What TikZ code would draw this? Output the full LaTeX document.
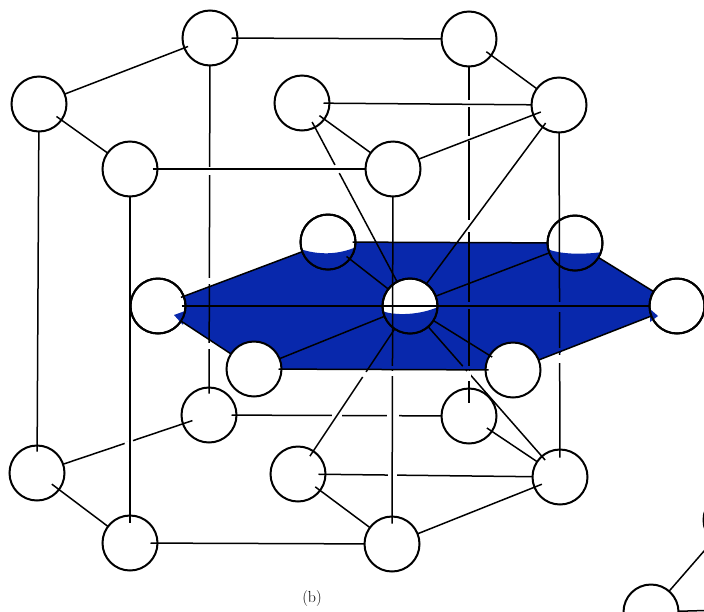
\documentclass[tikz,border=0pt]{standalone}
\usetikzlibrary{backgrounds}
\definecolor{planeblue}{RGB}{8,40,172}
\tikzset{
atom/.style={draw,circle,fill=white,line width=2pt,minimum size=55pt,inner sep=0pt,outer sep=0pt},
rim/.style={line width=2pt},
bond/.style={line width=1.5pt},
overa/.style={shorten <=-#1pt},
overb/.style={shorten >=-#1pt},
gapwhite/.style={draw=white,line width=3.2pt},
gapblue/.style={draw=planeblue,line width=3.2pt}
}
\begin{document}
\begin{tikzpicture}[x=1pt,y=-1pt]

\useasboundingbox (0,0) rectangle (704,611);
\clip (0,0) rectangle (704,611);

%%%%%%%%%%%%%%%%%%%%%%%%%%%%%%%%%%%%%%%%%%%%%%%%%%%%%%%%%%
% TOP LAYER
%%%%%%%%%%%%%%%%%%%%%%%%%%%%%%%%%%%%%%%%%%%%%%%%%%%%%%%%%%

\node[atom](topa) at (39,104){};
\node[atom](topb) at (210,38){};
\node[atom](topc) at (469,39){};
\node[atom](topd) at (559,105){};
\node[atom](tope) at (393,169){};
\node[atom](topf) at (130,169){};
\node[atom](topg) at (302,103){};

%%%%%%%%%%%%%%%%%%%%%%%%%%%%%%%%%%%%%%%%%%%%%%%%%%%%%%%%%%
% MIDDLE LAYER
%%%%%%%%%%%%%%%%%%%%%%%%%%%%%%%%%%%%%%%%%%%%%%%%%%%%%%%%%%

\node[atom](mida) at (158,306){};
\node[atom](midb) at (328,242){};
\node[atom](midc) at (575,243){};
\node[atom](midd) at (677,306){};
\node[atom](mide) at (513,370){};
\node[atom](midf) at (254,369){};
\node[atom](center) at (410,306){};

%%%%%%%%%%%%%%%%%%%%%%%%%%%%%%%%%%%%%%%%%%%%%%%%%%%%%%%%%%
% BOTTOM LAYER
%%%%%%%%%%%%%%%%%%%%%%%%%%%%%%%%%%%%%%%%%%%%%%%%%%%%%%%%%%

\node[atom](bota) at (37,473){};
\node[atom](botb) at (209,415){};
\node[atom](botc) at (469,416){};
\node[atom](botd) at (560,477){};
\node[atom](bote) at (392,544){};
\node[atom](botf) at (130,543){};
\node[atom](botg) at (298,474){};

%%%%%%%%%%%%%%%%%%%%%%%%%%%%%%%%%%%%%%%%%%%%%%%%%%%%%%%%%%
% NEXT CELL, CUT BY THE PAGE
%%%%%%%%%%%%%%%%%%%%%%%%%%%%%%%%%%%%%%%%%%%%%%%%%%%%%%%%%%

\node[atom](nexta) at (731,520){};
\node[atom](nextb) at (651,612){};
\coordinate (nextc) at (760,609);

%%%%%%%%%%%%%%%%%%%%%%%%%%%%%%%%%%%%%%%%%%%%%%%%%%%%%%%%%%
% BLUE PLANE
%%%%%%%%%%%%%%%%%%%%%%%%%%%%%%%%%%%%%%%%%%%%%%%%%%%%%%%%%%

\begin{scope}[on background layer]
\fill[planeblue] (mida.center)--(midb.center)--(midc.center)--(midd.center)--(mide.center)--(midf.center)--cycle;
\end{scope}

\begin{scope}
\clip (midb) circle[radius=27.5];
\fill[planeblue] (300,249) .. controls (318,255) and (338,255) .. (356,247) -- (356,272) -- (300,272) -- cycle;
\end{scope}
\draw[rim] (midb) circle[radius=27.5];

\begin{scope}
\clip (midc) circle[radius=27.5];
\fill[planeblue] (547,249) .. controls (560,254) and (580,255) .. (603,252) -- (603,272) -- (547,272) -- cycle;
\end{scope}
\draw[rim] (midc) circle[radius=27.5];

\begin{scope}
\clip (center) circle[radius=27.5];
\fill[planeblue] (382,311) .. controls (395,316) and (420,315) .. (438,307) -- (438,335) -- (382,335) -- cycle;
\end{scope}
\draw[rim] (center) circle[radius=27.5];

% small tips that show on the side atoms
\fill[planeblue] (174,315)--(185,311)--(183,325)--cycle;
\draw[rim] (mida) circle[radius=27.5];
\fill[planeblue] (658,316)--(650,309)--(650,322)--cycle;
\draw[rim] (midd) circle[radius=27.5];

%%%%%%%%%%%%%%%%%%%%%%%%%%%%%%%%%%%%%%%%%%%%%%%%%%%%%%%%%%
% LINES THAT PASS UNDER OTHERS
%%%%%%%%%%%%%%%%%%%%%%%%%%%%%%%%%%%%%%%%%%%%%%%%%%%%%%%%%%

\draw[bond,overb=10] (bota)--(botb);
\draw[bond,overa=6] (topg)--(center);
\draw[bond,overa=5] (botb)--(botc);
\draw[bond,overa=7] (botg)--(botd);

\draw[gapwhite] (125,444)--(133,441);
\draw[gapwhite] (335,165)--(339,173);
\draw[gapwhite] (332,416)--(342,416);
\draw[gapwhite] (387,416)--(399,416);
\draw[gapwhite] (388,476)--(397,476);

%%%%%%%%%%%%%%%%%%%%%%%%%%%%%%%%%%%%%%%%%%%%%%%%%%%%%%%%%%
% VERTICAL LINES
%%%%%%%%%%%%%%%%%%%%%%%%%%%%%%%%%%%%%%%%%%%%%%%%%%%%%%%%%%

\draw[bond,overb=6] (topa)--(bota);
\draw[bond,overb=6] (topb)--(botb);
\draw[bond,overb=14] (topc)--(botc);
\draw[bond,overb=8] (topd)--(botd);
\draw[bond,overb=7] (tope)--(bote);
\draw[bond,overb=7] (topf)--(botf);
\draw[bond,overa=6] (botg)--(center);
\draw[bond,overa=5] (botd)--(center);

\draw[gapwhite] (210,167)--(210,175);
\draw[gapwhite] (210,278)--(210,284);
\draw[gapwhite] (210,343)--(210,349);
\draw[gapwhite] (469,100)--(469,107);
\draw[gapwhite] (469,136)--(469,141);
\draw[gapwhite] (469,220)--(469,232);
\draw[gapblue] (469,302)--(469,309);
\draw[gapblue] (469,366)--(469,369);
\draw[gapwhite] (469,371)--(469,381);
\draw[gapblue] (393,366)--(393,369);
\draw[gapwhite] (393,371)--(393,376);
\draw[gapblue] (559,302)--(559,312);
\draw[gapblue] (559,348)--(559,353);
\draw[gapwhite] (559,355)--(559,363);
\draw[gapwhite] (366,372)--(363,377);
\draw[gapblue] (463,366)--(466,369);
\draw[gapwhite] (467,371)--(470,374);

%%%%%%%%%%%%%%%%%%%%%%%%%%%%%%%%%%%%%%%%%%%%%%%%%%%%%%%%%%
% OTHER CONNECTIONS
%%%%%%%%%%%%%%%%%%%%%%%%%%%%%%%%%%%%%%%%%%%%%%%%%%%%%%%%%%

\draw[bond,overb=4] (topa)--(topb);
\draw[bond,overa=6] (topb)--(topc);
\draw[bond,overa=6] (topc)--(topd);
\draw[bond,overb=8] (tope)--(topd);
\draw[bond,overa=5] (topf)--(tope);
\draw[bond,overa=6] (topa)--(topf);
\draw[bond,overa=6] (topg)--(topd);
\draw[bond,overa=6] (topg)--(tope);
\draw[bond,overa=5] (topd)--(center);

\draw[bond,overa=6] (botc)--(botd);
\draw[bond,overb=8] (bote)--(botd);
\draw[bond,overa=7] (botf)--(bote);
\draw[bond,overa=9] (bota)--(botf);
\draw[bond,overa=6] (botg)--(bote);

\draw[bond,overa=3] (mida)--(midb);
\draw[bond,overa=3] (midb)--(midc);
\draw[bond] (midc)--(midd);
\draw[bond] (midd)--(mide);
\draw[bond,overa=3,overb=3] (mide)--(midf);
\draw[bond] (midf)--(mida);

\draw[bond,overa=4] (mida)--(midd);
\draw[bond,overa=4] (midb)--(center);
\draw[bond] (midc)--(center);
\draw[bond,overa=3] (mide)--(center);
\draw[bond] (midf)--(center);

\draw[bond] (nextb)--(nexta);
\draw[bond] (nextb)--(nextc);

%%%%%%%%%%%%%%%%%%%%%%%%%%%%%%%%%%%%%%%%%%%%%%%%%%%%%%%%%%
% CAPTION
%%%%%%%%%%%%%%%%%%%%%%%%%%%%%%%%%%%%%%%%%%%%%%%%%%%%%%%%%%

\node[font=\fontsize{16}{18}\selectfont](caption) at (312,598){(b)};

\end{tikzpicture}
\end{document}
